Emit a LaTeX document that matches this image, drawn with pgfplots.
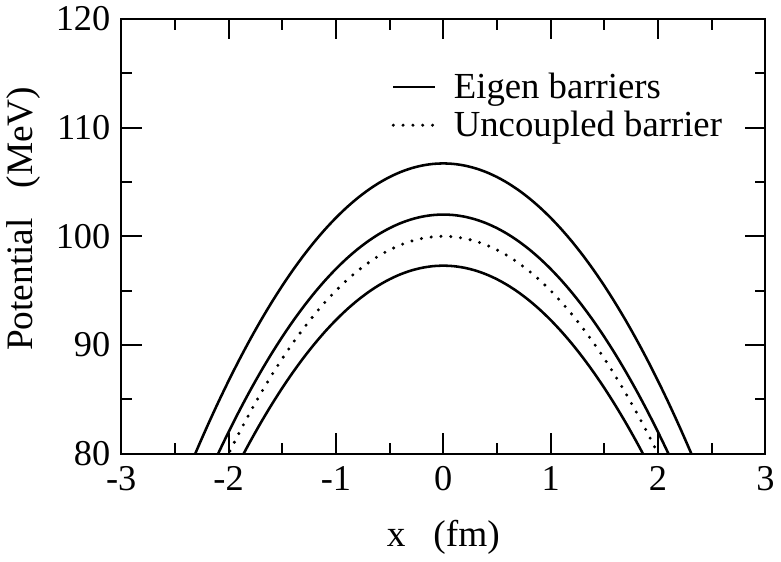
\documentclass[border=0pt]{standalone}
\usepackage{fontspec}
\setmainfont{Liberation Serif}
\usepackage{pgfplots}
\pgfplotsset{compat=1.18}
\usepackage{pgfplotstable}

% x, eigen barriers (top, mid, low) and the uncoupled one
\pgfplotstableread{
x    top     mid     unc     low
-2.4 77.90   73.20   71.20   68.50
-2.3 80.25   75.55   73.55   70.85
-2.2 82.50   77.80   75.80   73.10
-2.1 84.65   79.95   77.95   75.25
-2.0 86.70   82.00   80.00   77.30
-1.9 88.65   83.95   81.95   79.25
-1.8 90.50   85.80   83.80   81.10
-1.7 92.25   87.55   85.55   82.85
-1.6 93.90   89.20   87.20   84.50
-1.5 95.45   90.75   88.75   86.05
-1.4 96.90   92.20   90.20   87.50
-1.3 98.25   93.55   91.55   88.85
-1.2 99.50   94.80   92.80   90.10
-1.1 100.65  95.95   93.95   91.25
-1.0 101.70  97.00   95.00   92.30
-0.9 102.65  97.95   95.95   93.25
-0.8 103.50  98.80   96.80   94.10
-0.7 104.25  99.55   97.55   94.85
-0.6 104.90  100.20  98.20   95.50
-0.5 105.45  100.75  98.75   96.05
-0.4 105.90  101.20  99.20   96.50
-0.3 106.25  101.55  99.55   96.85
-0.2 106.50  101.80  99.80   97.10
-0.1 106.65  101.95  99.95   97.25
0.0  106.70  102.00  100.00  97.30
0.1  106.65  101.95  99.95   97.25
0.2  106.50  101.80  99.80   97.10
0.3  106.25  101.55  99.55   96.85
0.4  105.90  101.20  99.20   96.50
0.5  105.45  100.75  98.75   96.05
0.6  104.90  100.20  98.20   95.50
0.7  104.25  99.55   97.55   94.85
0.8  103.50  98.80   96.80   94.10
0.9  102.65  97.95   95.95   93.25
1.0  101.70  97.00   95.00   92.30
1.1  100.65  95.95   93.95   91.25
1.2  99.50   94.80   92.80   90.10
1.3  98.25   93.55   91.55   88.85
1.4  96.90   92.20   90.20   87.50
1.5  95.45   90.75   88.75   86.05
1.6  93.90   89.20   87.20   84.50
1.7  92.25   87.55   85.55   82.85
1.8  90.50   85.80   83.80   81.10
1.9  88.65   83.95   81.95   79.25
2.0  86.70   82.00   80.00   77.30
2.1  84.65   79.95   77.95   75.25
2.2  82.50   77.80   75.80   73.10
2.3  80.25   75.55   73.55   70.85
2.4  77.90   73.20   71.20   68.50
}\barriers

\begin{document}
\begin{tikzpicture}
\begin{axis}[
    scale only axis,
    width=328pt, height=221.5pt,
    xmin=-3, xmax=3, ymin=80, ymax=120,
    xtick={-3,-2,-1,0,1,2,3},
    xticklabels={-3,-2,-1,0,1,2,3},
    ytick={80,90,100,110,120},
    yticklabels={80,90,100,110,120},
    minor x tick num=1, minor y tick num=1,
    tick align=inside,
    major tick length=10.5pt, minor tick length=5.5pt,
    every tick/.style={black, line width=1pt},
    axis line style={line width=1pt},
    ticklabel style={font=\fontsize{18.5}{20}\selectfont},
    xticklabel style={yshift=-3pt},
    yticklabel style={xshift=-2pt},
    label style={font=\fontsize{19}{21}\selectfont},
    xlabel={x\hspace{0.75em}(fm)},
    ylabel={Potential\hspace{0.8em}(MeV)},
    xlabel style={yshift=-8pt},
    ylabel style={at={(ticklabel cs:0.54)}, yshift=1pt},
    legend style={draw=none, fill=none, at={(0.41,0.895)}, anchor=north west,
                  font=\fontsize{18.7}{21}\selectfont, row sep=1pt,
                  nodes={inner xsep=9pt}},
    legend cell align=left,
    legend image code/.code={\draw[#1] (0pt,0pt) -- (21pt,0pt);},
]
\addplot[black, line width=1.3pt, smooth] table[x=x, y=top] {\barriers};
\addlegendentry{Eigen barriers}
\addplot[black, line width=1.7pt, line cap=round, dash pattern=on 0pt off 5pt, smooth] table[x=x, y=unc] {\barriers};
\addlegendentry{Uncoupled barrier}
\addplot[black, line width=1.3pt, smooth, forget plot] table[x=x, y=mid] {\barriers};
\addplot[black, line width=1.3pt, smooth, forget plot] table[x=x, y=low] {\barriers};
\end{axis}
\end{tikzpicture}
\end{document}
